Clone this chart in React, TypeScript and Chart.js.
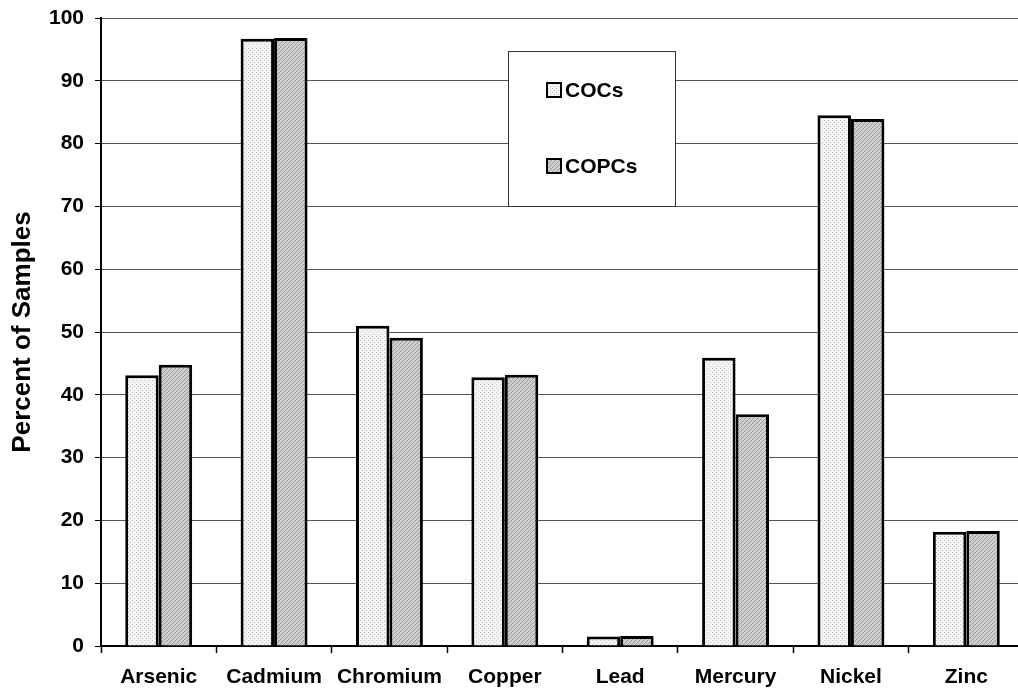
import React, { useEffect, useRef } from "react";
import { Chart, registerables } from "chart.js";

Chart.register(...registerables);

const categories = ["Arsenic", "Cadmium", "Chromium", "Copper", "Lead", "Mercury", "Nickel", "Zinc"];
const cocsValues = [43.1, 96.7, 51.0, 42.8, 1.5, 45.9, 84.5, 18.2];
const copcsValues = [44.8, 96.8, 49.1, 43.2, 1.6, 36.9, 83.9, 18.3];
const seriesNames = ["COCs", "COPCs"];
const yTitle = "Percent of Samples";

const FONT = "'Liberation Sans', Arial, sans-serif";

function makePattern(kind: "dots" | "hatch"): CanvasPattern | string {
  const c = document.createElement("canvas");
  c.width = 4;
  c.height = 4;
  const g = c.getContext("2d");
  if (!g) return kind === "dots" ? "#e8e8e8" : "#bbbbbb";
  if (kind === "dots") {
    g.fillStyle = "#f4f4f4";
    g.fillRect(0, 0, 4, 4);
    g.fillStyle = "#c4c4c4";
    g.fillRect(0, 0, 1, 1);
    g.fillRect(2, 2, 1, 1);
  } else {
    g.fillStyle = "#cfcfcf";
    g.fillRect(0, 0, 4, 4);
    g.fillStyle = "#9a9a9a";
    g.fillRect(0, 3, 1, 1);
    g.fillRect(1, 2, 1, 1);
    g.fillRect(2, 1, 1, 1);
    g.fillRect(3, 0, 1, 1);
  }
  return g.createPattern(c, "repeat") || "#cccccc";
}

export default function App() {
  const ref = useRef<HTMLCanvasElement | null>(null);
  useEffect(() => {
    if (!ref.current) return;
    const p1 = makePattern("dots");
    const p2 = makePattern("hatch");
    const legendPlugin = {
      id: "boxLegend",
      afterDraw(chart: any) {
        const ctx = chart.ctx;
        ctx.save();
        ctx.fillStyle = "#ffffff";
        ctx.fillRect(508, 51, 168, 156);
        ctx.strokeStyle = "#333333";
        ctx.lineWidth = 1;
        ctx.strokeRect(508.5, 51.5, 167, 155);
        const items = [
          { y: 90, fill: p1 },
          { y: 166, fill: p2 },
        ];
        items.forEach((it, i) => {
          ctx.fillStyle = it.fill;
          ctx.fillRect(547, it.y - 7, 14, 14);
          ctx.strokeStyle = "#000";
          ctx.lineWidth = 2;
          ctx.strokeRect(547, it.y - 7, 14, 14);
          ctx.fillStyle = "#000";
          ctx.font = "bold 21px " + FONT;
          ctx.textBaseline = "middle";
          ctx.textAlign = "left";
          ctx.fillText(seriesNames[i], 565, it.y + 1);
        });
        ctx.restore();
      },
    };
    const chart = new Chart(ref.current, {
      type: "bar",
      data: {
        labels: categories,
        datasets: [
          {
            label: seriesNames[0],
            data: cocsValues,
            backgroundColor: p1 as any,
            borderColor: "#000",
            borderWidth: 3,
            borderSkipped: "bottom",
            categoryPercentage: 0.58,
            barPercentage: 1,
          },
          {
            label: seriesNames[1],
            data: copcsValues,
            backgroundColor: p2 as any,
            borderColor: "#000",
            borderWidth: 3,
            borderSkipped: "bottom",
            categoryPercentage: 0.58,
            barPercentage: 1,
          },
        ],
      },
      options: {
        responsive: false,
        animation: false,
        layout: { padding: { top: 18, left: 0, right: 0, bottom: 0 } },
        plugins: {
          legend: { display: false },
          tooltip: { enabled: false },
        },
        scales: {
          x: {
            grid: {
              color: "rgba(0,0,0,0)",
              tickColor: "#000",
              tickLength: 7,
              tickWidth: 1.5,
              offset: true,
            },
            border: { display: true, color: "#000", width: 2 },
            ticks: {
              color: "#000",
              padding: 12,
              maxRotation: 0,
              font: { family: FONT, size: 21, weight: "bold" },
            },
            afterFit(scale: any) {
              scale.height = 52;
              scale.paddingLeft = 0;
              scale.paddingRight = 0;
            },
          },
          y: {
            min: 0,
            max: 100,
            ticks: {
              stepSize: 10,
              color: "#000",
              padding: 11,
              font: { family: FONT, size: 21, weight: "bold" },
            },
            grid: {
              color: "#555",
              lineWidth: 1,
              tickColor: "#000",
              tickLength: 6,
            },
            border: { display: true, color: "#000", width: 2 },
            title: {
              display: true,
              text: yTitle,
              color: "#000",
              padding: { top: 7, bottom: 0 },
              font: { family: FONT, size: 26, weight: "bold" },
            },
            afterFit(scale: any) {
              scale.width = 101;
              scale.paddingTop = 0;
              scale.paddingBottom = 0;
            },
          },
        },
      },
      plugins: [legendPlugin],
    });
    return () => chart.destroy();
  }, []);
  return (
    <div style={{ position: "fixed", left: 0, top: 0, width: 1018, height: 698, overflow: "hidden", background: "#fff" }}>
      <canvas ref={ref} width={1024} height={698} style={{ display: "block" }} />
    </div>
  );
}
